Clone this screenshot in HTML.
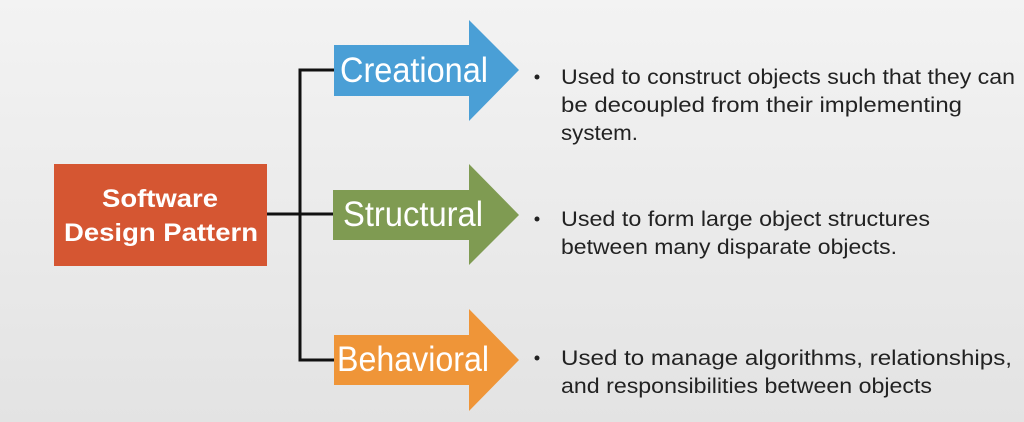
<!DOCTYPE html>
<html><head><meta charset="utf-8"><style>
html,body{margin:0;padding:0;}
body{width:1024px;height:422px;overflow:hidden;background:linear-gradient(180deg,#f3f3f3 0%,#e3e3e3 100%);}
svg{display:block;font-family:"Liberation Sans",sans-serif;}
</style></head><body>
<svg width="1024" height="422" viewBox="0 0 1024 422">
<rect x="54" y="164" width="213" height="102" fill="#d55632"/>
<text x="160" y="207" text-anchor="middle" font-size="25" font-weight="bold" fill="#fff" textLength="116" lengthAdjust="spacingAndGlyphs">Software</text>
<text x="161" y="241" text-anchor="middle" font-size="25" font-weight="bold" fill="#fff" textLength="194" lengthAdjust="spacingAndGlyphs">Design Pattern</text>
<g stroke="#111" stroke-width="3" fill="none">
<path d="M267 214 H334"/>
<path d="M334 70 H300 V360 H334"/>
</g>
<polygon points="334,45 469,45 469,20 519,70 469,121 469,96 334,96" fill="#4a9fd6"/>
<polygon points="333,190 469,190 469,164 519,215 469,265 469,240 333,240" fill="#7f9b52"/>
<polygon points="334,335 469,335 469,309 519,360 469,411 469,385 334,385" fill="#ef9538"/>
<g fill="#fff" font-size="35">
<text x="340" y="82" textLength="148" lengthAdjust="spacingAndGlyphs">Creational</text>
<text x="343" y="226" textLength="140" lengthAdjust="spacingAndGlyphs">Structural</text>
<text x="337" y="371" textLength="152" lengthAdjust="spacingAndGlyphs">Behavioral</text>
</g>
<g fill="#222" font-size="21">
<circle cx="537" cy="77" r="2.5"/>
<text x="561" y="84" textLength="454" lengthAdjust="spacingAndGlyphs">Used to construct objects such that they can</text>
<text x="561" y="112" textLength="401" lengthAdjust="spacingAndGlyphs">be decoupled from their implementing</text>
<text x="561" y="140" textLength="77" lengthAdjust="spacingAndGlyphs">system.</text>
<circle cx="537" cy="219" r="2.5"/>
<text x="561" y="226" textLength="369" lengthAdjust="spacingAndGlyphs">Used to form large object structures</text>
<text x="561" y="254" textLength="336" lengthAdjust="spacingAndGlyphs">between many disparate objects.</text>
<circle cx="537" cy="358" r="2.5"/>
<text x="561" y="365" textLength="451" lengthAdjust="spacingAndGlyphs">Used to manage algorithms, relationships,</text>
<text x="561" y="393" textLength="371" lengthAdjust="spacingAndGlyphs">and responsibilities between objects</text>
</g>
</svg>
</body></html>
